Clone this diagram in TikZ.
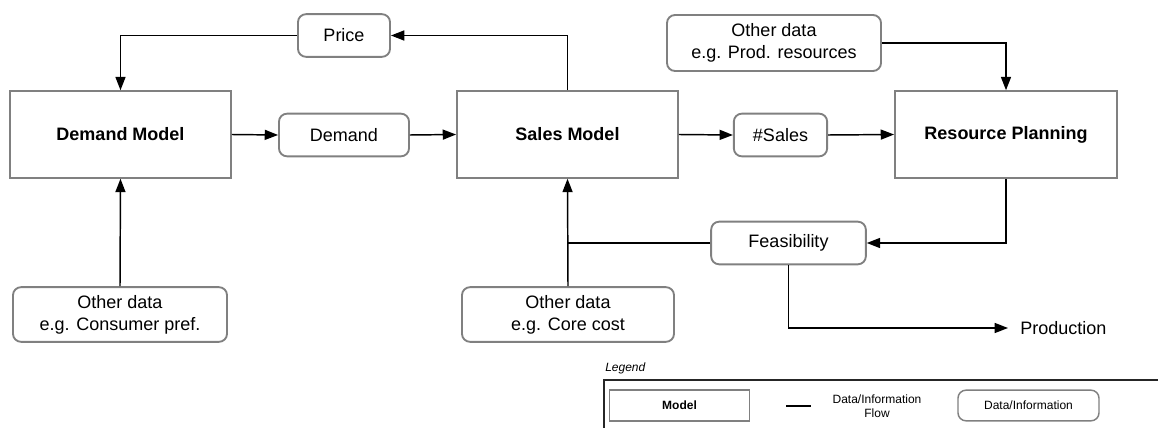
\documentclass[tikz,border=0pt]{standalone}
\usepackage{fontspec}
\setmainfont{Liberation Sans}
\usetikzlibrary{arrows.meta,positioning,calc}

\begin{document}
\begin{tikzpicture}[x=0.75pt, y=-0.75pt, >={Triangle[length=10pt,width=7.5pt]},
  font=\fontsize{13.5}{16.5}\selectfont,
  model/.style={draw=gray, line width=1.4pt, minimum width=#1, minimum height=65pt,
    inner sep=0pt, font=\fontsize{13.5}{16.5}\selectfont\bfseries},
  info/.style={draw=gray, line width=1.4pt, rounded corners=6pt, minimum width=#1,
    minimum height=32pt, inner sep=0pt, align=center},
  flow/.style={->, line width=1.1pt},
  legtext/.style={font=\fontsize{9}{10.5}\selectfont}]
  %% page frame
  \useasboundingbox (0,0) rectangle (1158,428);
  %% Models
  \node[model=165.75pt] (demand) at (120.5,134.5) {Demand Model};
  \node[model=165.75pt] (sales)  at (567.5,134.5) {Sales Model};
  \node[model=166.5pt]  (plan)   at (1006,134.5)  {Resource Planning};
  %% Data / information
  \node[info=69pt]  (price)   at (344,35.5)  {Price};
  \node[info=97.5pt] (dem)    at (344,135)   {Demand};
  \node[info=70pt]  (nsales)  at (780.5,135) {\#Sales};
  \node[info=116pt] (feas)    at (788.5,243) {Feasibility};
  \node[info=160.5pt, minimum height=42pt] (prodres)  at (774,43)    {Other data\\e.g. Prod. resources};
  \node[info=160.5pt, minimum height=41pt] (consumer) at (120,314.5) {Other data\\e.g. Consumer pref.};
  \node[info=159pt,   minimum height=41pt] (corecost) at (568,314.5) {Other data\\e.g. Core cost};
  \node[anchor=west, inner xsep=9pt, inner ysep=0pt] (prod) at (1008,328) {Production};
  %% Flows
  \draw[flow] (demand.east) -- (dem.west);
  \draw[flow] (dem.east) -- (sales.west);
  \draw[flow] (sales.east) -- (nsales.west);
  \draw[flow] (nsales.east) -- (plan.west);
  \draw[flow] (sales.north) |- (price.east);
  \draw[flow] (price.west) -| (demand.north);
  \draw[flow] (consumer.north) -- (demand.south);
  \draw[flow] (corecost.north) -- (sales.south);
  \draw[flow] (prodres.east) -| (plan.north);
  \draw[flow] (plan.south) |- (feas.east);
  \coordinate (join) at (sales.south |- feas.west);
  \draw[line width=1.1pt] (feas.west) -- (join);
  \draw[flow] (feas.south) |- (prod.west);
  %% Legend
  \node[anchor=south west, inner sep=0pt, font=\fontsize{9}{10.5}\selectfont\itshape] (legtitle) at (605,374) {Legend};
  \draw[line width=1.1pt, black!85] (604,440) -- (604,380) -- (1170,380);
  \node[model=105pt, minimum height=23pt, line width=1.1pt, font=\fontsize{9}{10.5}\selectfont\bfseries] (legmodel) at (679.5,405.5) {Model};
  \coordinate (legline1) at (786,406);
  \coordinate (legline2) at (811,406);
  \draw[line width=1.1pt] (legline1) -- (legline2);
  \node[legtext, align=center] (legflow) at (877,406) {Data/Information\\Flow};
  \node[info=105.75pt, minimum height=23pt, line width=1.1pt, legtext] (legdata) at (1028.5,405.5) {Data/Information};
\end{tikzpicture}
\end{document}
